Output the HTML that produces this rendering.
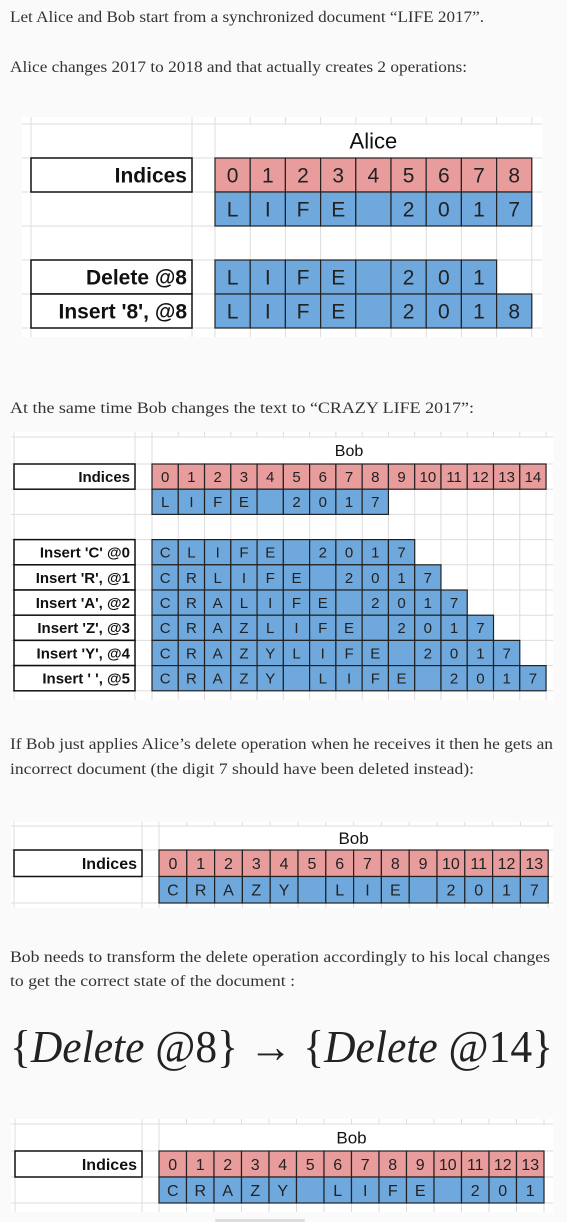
<!DOCTYPE html>
<html><head><meta charset="utf-8">
<style>
html,body{margin:0;padding:0;background:#fafafa;width:567px;height:1222px;overflow:hidden;position:relative}
svg{position:absolute;left:0;top:0}
.t{font-family:"Liberation Serif",serif;font-size:16px;fill:#333}
</style></head><body>
<div style="position:absolute;left:215px;top:1219px;width:90px;height:3px;background:#ddd;border-radius:2px"></div>
<svg id="s" width="567" height="1222">
<text class="t" x="10" y="22" textLength="474" lengthAdjust="spacingAndGlyphs">Let Alice and Bob start from a synchronized document “LIFE 2017”.</text>
<text class="t" x="10" y="72" textLength="457" lengthAdjust="spacingAndGlyphs">Alice changes 2017 to 2018 and that actually creates 2 operations:</text>
<text class="t" x="10" y="413" textLength="464" lengthAdjust="spacingAndGlyphs">At the same time Bob changes the text to “CRAZY LIFE 2017”:</text>
<text class="t" x="10" y="749" textLength="543" lengthAdjust="spacingAndGlyphs">If Bob just applies Alice’s delete operation when he receives it then he gets an</text>
<text class="t" x="10" y="774" textLength="464" lengthAdjust="spacingAndGlyphs">incorrect document (the digit 7 should have been deleted instead):</text>
<text class="t" x="10" y="962" textLength="540" lengthAdjust="spacingAndGlyphs">Bob needs to transform the delete operation accordingly to his local changes</text>
<text class="t" x="10" y="986" textLength="285" lengthAdjust="spacingAndGlyphs">to get the correct state of the document :</text>
<text x="10" y="1062" textLength="543" lengthAdjust="spacingAndGlyphs" font-family="Liberation Serif, serif" font-size="46" fill="#222">{<tspan font-style="italic">Delete</tspan> @8} → {<tspan font-style="italic">Delete</tspan> @14}</text>
</svg>
<script>
const aliceIdx=['0','1','2','3','4','5','6','7','8'];
const aliceLabels=['','','Delete @8',"Insert '8', @8"];
const aliceRows=[['L','I','F','E','','2','0','1','7'],null,['L','I','F','E','','2','0','1'],['L','I','F','E','','2','0','1','8']];
const bobIdx=['0','1','2','3','4','5','6','7','8','9','10','11','12','13','14'];
const bobLabels=['','',"Insert 'C' @0","Insert 'R', @1","Insert 'A', @2","Insert 'Z', @3","Insert 'Y', @4","Insert ' ', @5"];
const bobRows=[['L','I','F','E','','2','0','1','7'],null,
['C','L','I','F','E','','2','0','1','7'],
['C','R','L','I','F','E','','2','0','1','7'],
['C','R','A','L','I','F','E','','2','0','1','7'],
['C','R','A','Z','L','I','F','E','','2','0','1','7'],
['C','R','A','Z','Y','L','I','F','E','','2','0','1','7'],
['C','R','A','Z','Y','','L','I','F','E','','2','0','1','7']];
const bob2Idx=['0','1','2','3','4','5','6','7','8','9','10','11','12','13'];
const bob2Rows=[['C','R','A','Z','Y','','L','I','E','','2','0','1','7']];
const bob3Rows=[['C','R','A','Z','Y','','L','I','F','E','','2','0','1']];
const NS='http://www.w3.org/2000/svg';
const svg=document.getElementById('s');
function el(t,a,p){const e=document.createElementNS(NS,t);for(const k in a)e.setAttribute(k,a[k]);(p||svg).appendChild(e);return e;}
function table(c,idx,labels,rows,name){
 const g=el('g',{});
 
 
 el('rect',{x:c.x0,y:c.y0,width:c.x1-c.x0,height:c.y1-c.y0,fill:'#fff'},g);
 const nRows=1+rows.length;
 const hs=[c.tt];for(let r=0;r<=nRows;r++)hs.push(c.rt+r*c.rh);
 if(c.rt+(nRows+1)*c.rh<c.y1)hs.push(c.rt+(nRows+1)*c.rh);
 hs.forEach(y=>el('line',{x1:c.x0,x2:c.x1,y1:y,y2:y,stroke:'#ddd'},g));
 const vs=[c.lx0,c.lx1];for(let i=0;c.cx+i*c.cw<=c.x1;i++)vs.push(c.cx+i*c.cw);
 vs.forEach(x=>el('line',{x1:x,x2:x,y1:c.y0,y2:c.y1,stroke:'#ddd'},g));
 el('rect',{x:c.cx+0.5,y:c.tt+0.5,width:c.x1-c.cx,height:c.rt-c.tt-1,fill:'#fff'},g);
 const t=el('text',{x:(c.cx+c.cx+idx.length*c.cw)/2,y:(c.tt+c.rt)/2+c.fs*0.36,'text-anchor':'middle','font-family':'Liberation Sans, sans-serif','font-size':c.fs+1,fill:'#111'},g);
 t.textContent=c.title;
 
 
 const all=[{label:'Indices',cells:idx,fill:'#e89c9c'}];
 rows.forEach((r,i)=>all.push({label:labels[i],cells:r,fill:'#6fa8dc'}));
 all.forEach((row,r)=>{
  const y=c.rt+r*c.rh;
  if(row.label){
   el('rect',{x:c.lx0,y:y,width:c.lx1-c.lx0,height:c.rh,fill:'#fff',stroke:'#111','stroke-width':1.5},g);
   const lt=el('text',{x:c.lx1-5,y:y+c.rh/2+c.fs*0.36,'text-anchor':'end','font-family':'Liberation Sans, sans-serif','font-weight':'bold','font-size':c.fs,fill:'#111'},g);
   lt.textContent=row.label;
   
   
  }
  if(!row.cells)return;
  row.cells.forEach((v,i)=>{
   const x=c.cx+i*c.cw;
   const rc=el('rect',{x:x,y:y,width:c.cw,height:c.rh,fill:row.fill,stroke:'#222','stroke-width':1.2},g);
   
   
   const ct=el('text',{x:x+c.cw/2,y:y+c.rh/2+c.fs*0.36,'text-anchor':'middle','font-family':'Liberation Sans, sans-serif','font-size':c.fs,fill:'#222'},g);
   ct.textContent=v;
  });
 });
}
table({x0:22,x1:542,y0:117,y1:337,tt:124,rt:158,rh:34,lx0:31,lx1:192,cx:215,cw:35.2,fs:21,title:'Alice'},aliceIdx,aliceLabels,aliceRows,'alice-table');
table({x0:11,x1:553,y0:432,y1:700,tt:437,rt:464,rh:25.2,lx0:14,lx1:135,cx:152,cw:26.27,fs:15,title:'Bob'},bobIdx,bobLabels,bobRows,'bob-table');
table({x0:11,x1:553,y0:822,y1:908,tt:826,rt:850,rh:26.5,lx0:14,lx1:142,cx:159,cw:27.8,fs:16,title:'Bob'},bob2Idx,[''],bob2Rows,'bob-incorrect-table');
table({x0:11,x1:553,y0:1119,y1:1212,tt:1124,rt:1151,rh:26,lx0:15,lx1:142,cx:159,cw:27.5,fs:16,title:'Bob'},bob2Idx,[''],bob3Rows,'bob-correct-table');
</script>
</body></html>
